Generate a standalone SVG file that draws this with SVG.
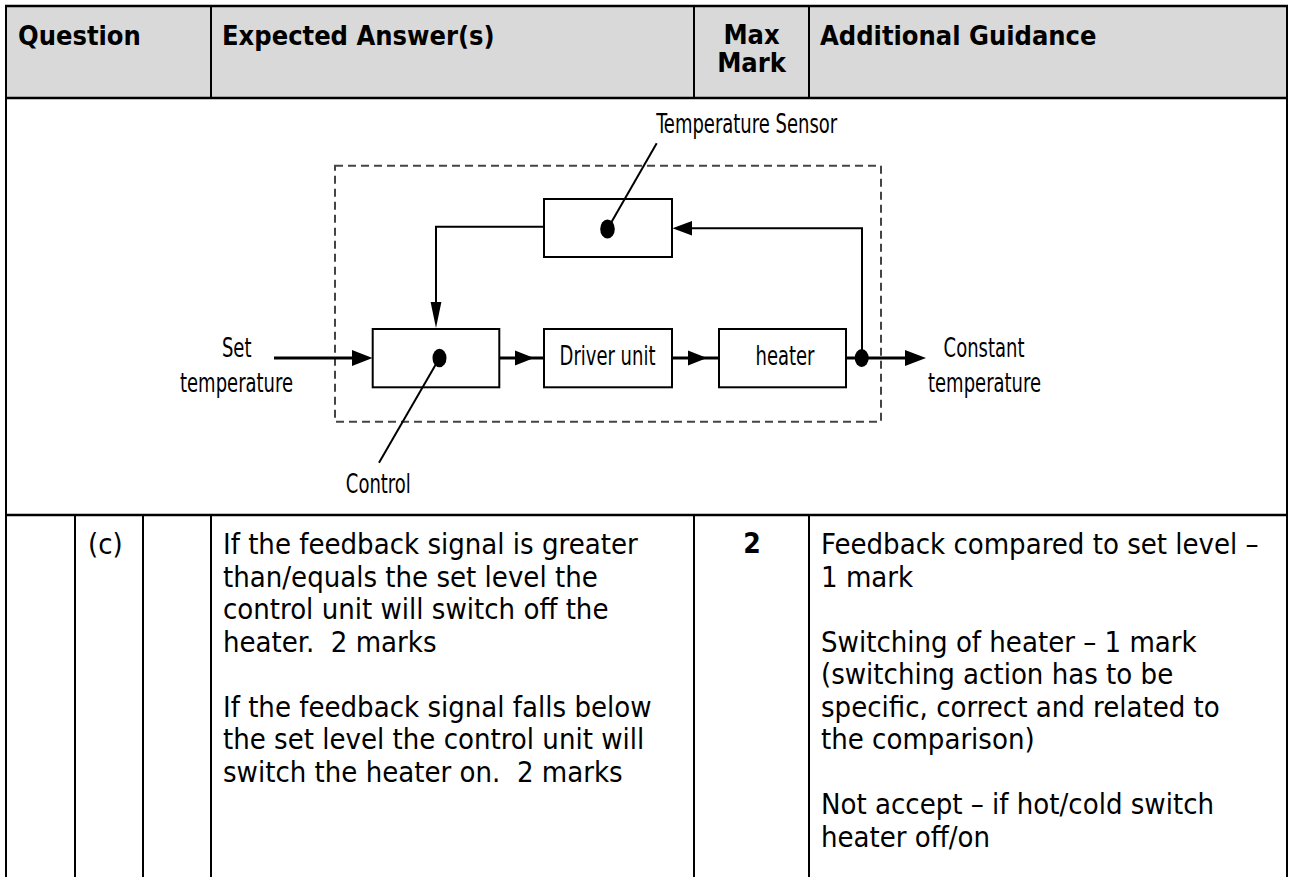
<svg xmlns="http://www.w3.org/2000/svg" width="1292" height="877" viewBox="0 0 1292 877">
<style>
.t{font-family:'DejaVu Sans Condensed','DejaVu Sans',sans-serif;font-stretch:condensed;fill:#000}
.h{font-size:27px;font-weight:bold}
.b{font-size:29px}
.bb{font-size:28px;font-weight:bold}
.d{font-size:20px}
.grid{stroke:#000;stroke-width:2;fill:none}
.row{stroke:#000;stroke-width:2.6;fill:none}
.box{fill:#fff;stroke:#000;stroke-width:2}
.dash{fill:none;stroke:#444;stroke-width:2;stroke-dasharray:8 5}
.ln{stroke:#000;stroke-width:2;fill:none}
.thk{stroke:#000;stroke-width:3;fill:none}
.ah{fill:#000;stroke:none}
</style>
<rect x="0" y="0" width="1292" height="877" fill="#fff"/>
<g id="table">
<rect x="6" y="6" width="1281" height="92" fill="#d9d9d9"/>
<line class="row" x1="5" y1="6" x2="1288" y2="6"/>
<line class="row" x1="5" y1="98" x2="1288" y2="98"/>
<line class="row" x1="5" y1="515" x2="1288" y2="515"/>
<line class="grid" x1="6" y1="5" x2="6" y2="877"/>
<line class="grid" x1="1287" y1="5" x2="1287" y2="877"/>
<line class="grid" x1="211" y1="6" x2="211" y2="98"/>
<line class="grid" x1="694" y1="6" x2="694" y2="98"/>
<line class="grid" x1="809" y1="6" x2="809" y2="98"/>
<line class="grid" x1="75" y1="515" x2="75" y2="877"/>
<line class="grid" x1="143" y1="515" x2="143" y2="877"/>
<line class="grid" x1="211" y1="515" x2="211" y2="877"/>
<line class="grid" x1="694" y1="515" x2="694" y2="877"/>
<line class="grid" x1="809" y1="515" x2="809" y2="877"/>
</g>
<g id="header" class="t h">
<text x="18" y="45">Question</text>
<text x="222" y="45">Expected Answer(s)</text>
<text x="751.5" y="44" text-anchor="middle">Max</text>
<text x="751.5" y="72" text-anchor="middle">Mark</text>
<text x="820" y="45">Additional Guidance</text>
</g>
<g id="body" class="t b">
<text x="88" y="554">(c)</text>
<text x="223" y="554">If the feedback signal is greater</text>
<text x="223" y="586.5">than/equals the set level the</text>
<text x="223" y="619">control unit will switch off the</text>
<text x="223" y="651.5" xml:space="preserve">heater.  2 marks</text>
<text x="223" y="716.5">If the feedback signal falls below</text>
<text x="223" y="749">the set level the control unit will</text>
<text x="223" y="781.5" xml:space="preserve">switch the heater on.  2 marks</text>
<text class="t bb" x="752" y="553" text-anchor="middle">2</text>
<text x="821" y="554">Feedback compared to set level –</text>
<text x="821" y="586.5">1 mark</text>
<text x="821" y="651.5">Switching of heater – 1 mark</text>
<text x="821" y="684">(switching action has to be</text>
<text x="821" y="716.5">specific, correct and related to</text>
<text x="821" y="749">the comparison)</text>
<text x="821" y="814">Not accept – if hot/cold switch</text>
<text x="821" y="846.5">heater off/on</text>
</g>
<g id="boundary">
<rect class="dash" x="335" y="165.7" width="546" height="256"/>
</g>
<g id="node-sensor">
<rect class="box" x="544" y="199" width="128" height="58"/>
<line class="ln" x1="607.5" y1="229" x2="656.7" y2="143.3"/>
<ellipse cx="607.5" cy="229" rx="7.3" ry="9.6" fill="#000"/>
<text class="t d" text-anchor="middle" transform="translate(746.7,133.3) scale(1,1.3)">Temperature Sensor</text>
</g>
<g id="node-control">
<rect class="box" x="372.7" y="329" width="126.6" height="58.3"/>
<line class="ln" x1="439.5" y1="358" x2="379" y2="462.7"/>
<ellipse cx="439.5" cy="358" rx="7" ry="9.3" fill="#000"/>
<text class="t d" text-anchor="middle" transform="translate(378.3,493.3) scale(1,1.3)">Control</text>
</g>
<g id="node-driver">
<rect class="box" x="544" y="329" width="128" height="58.3"/>
<text class="t d" text-anchor="middle" transform="translate(607.5,365) scale(1,1.3)">Driver unit</text>
</g>
<g id="node-heater">
<rect class="box" x="719" y="329" width="127" height="58.3"/>
<text class="t d" text-anchor="middle" transform="translate(785,365) scale(1,1.3)">heater</text>
</g>
<g id="label-input">
<text class="t d" text-anchor="middle" transform="translate(236.7,357.3) scale(1,1.3)">Set</text>
<text class="t d" text-anchor="middle" transform="translate(236.5,391.7) scale(1,1.3)">temperature</text>
</g>
<g id="label-output">
<text class="t d" text-anchor="middle" transform="translate(984,357.3) scale(1,1.3)">Constant</text>
<text class="t d" text-anchor="middle" transform="translate(984.5,391.7) scale(1,1.3)">temperature</text>
</g>
<g id="connectors">
<line class="thk" x1="274" y1="358" x2="353" y2="358"/>
<polygon class="ah" points="352,350 352,366 372.5,358"/>
<line class="thk" x1="499" y1="358" x2="544" y2="358"/>
<polygon class="ah" points="515,350.5 515,365.5 534,358"/>
<line class="thk" x1="672" y1="358" x2="719" y2="358"/>
<polygon class="ah" points="688,350.5 688,365.5 707,358"/>
<line class="thk" x1="846" y1="358" x2="906" y2="358"/>
<polygon class="ah" points="905,350 905,366 926,358"/>
<polyline class="ln" points="862,358 862,228.3 690,228.3"/>
<polygon class="ah" points="692,221 692,235.6 672.5,228.3"/>
<polyline class="ln" points="544,226.7 436,226.7 436,305"/>
<polygon class="ah" points="430.6,302 441.4,302 436,328"/>
<ellipse cx="861.7" cy="358" rx="7" ry="9" fill="#000"/>
</g>
</svg>
